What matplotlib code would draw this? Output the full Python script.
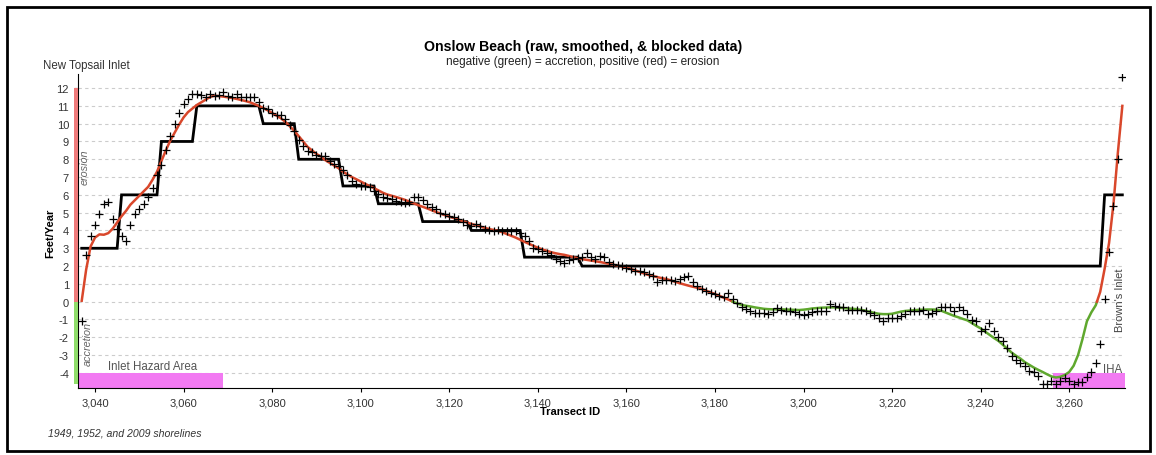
import numpy as np
import matplotlib
matplotlib.use("Agg")
import matplotlib.pyplot as plt
from matplotlib.patches import Rectangle
from matplotlib.ticker import FuncFormatter
import matplotlib.transforms as mtransforms

plt.rcParams['font.family'] = ['Liberation Sans', 'DejaVu Sans']
plt.rcParams['axes.unicode_minus'] = False

# ---------------- data ----------------
first_id = 3037
raw_values = [
    -1.1, 2.6, 3.7, 4.3, 4.9, 5.5, 5.6, 4.65, 4.1, 3.7,
    3.4, 4.3, 4.9, 5.2, 5.5, 5.9, 6.4, 7.1, 7.7, 8.5,
    9.3, 10.0, 10.6, 11.1, 11.4, 11.65, 11.65, 11.6, 11.5, 11.65,
    11.55, 11.6, 11.8, 11.55, 11.5, 11.65, 11.5, 11.5, 11.5, 11.5,
    11.2, 10.9, 10.8, 10.6, 10.5, 10.5, 10.25, 9.9, 9.6, 9.1,
    8.75, 8.48, 8.39, 8.25, 8.2, 8.2, 7.92, 7.73, 7.6, 7.41,
    7.1, 6.79, 6.61, 6.48, 6.48, 6.42, 6.23, 6.05, 5.9, 5.8,
    5.76, 5.67, 5.61, 5.54, 5.6, 5.86, 5.86, 5.72, 5.5, 5.3,
    5.2, 4.98, 4.92, 4.83, 4.74, 4.64, 4.45, 4.3, 4.23, 4.36,
    4.26, 4.1, 4.0, 3.98, 4.02, 3.98, 3.98, 3.98, 3.98, 3.85,
    3.67, 3.42, 3.01, 2.96, 2.86, 2.73, 2.62, 2.39, 2.3, 2.17,
    2.35, 2.39, 2.45, 2.49, 2.73, 2.49, 2.39, 2.58, 2.49, 2.21,
    2.11, 2.06, 1.98, 1.87, 1.83, 1.74, 1.7, 1.65, 1.55, 1.46,
    1.08, 1.23, 1.23, 1.2, 1.17, 1.27, 1.36, 1.42, 1.08, 0.89,
    0.71, 0.61, 0.5, 0.43, 0.33, 0.24, 0.47, 0.15, -0.1, -0.32,
    -0.42, -0.51, -0.66, -0.66, -0.66, -0.7, -0.6, -0.38, -0.47, -0.51,
    -0.55, -0.6, -0.7, -0.75, -0.7, -0.6, -0.55, -0.55, -0.55, -0.13,
    -0.27, -0.32, -0.32, -0.46, -0.46, -0.46, -0.46, -0.55, -0.65, -0.75,
    -0.94, -1.07, -0.94, -0.94, -0.94, -0.83, -0.7, -0.55, -0.55, -0.55,
    -0.46, -0.7, -0.64, -0.5, -0.32, -0.32, -0.32, -0.51, -0.32, -0.46,
    -0.7, -1.02, -1.07, -1.63, -1.54, -1.2, -1.63, -2.01, -2.2, -2.6,
    -3.04, -3.3, -3.45, -3.6, -3.88, -3.97, -4.16, -4.63, -4.63, -4.44,
    -4.63, -4.44, -4.31, -4.44, -4.63, -4.53, -4.5, -4.25, -3.97, -3.45,
    -2.38, 0.15, 2.77, 5.39, 8.01, 12.6,
]
smoothed_values = [
    0.05, 1.8, 3.1, 3.6, 3.78, 3.76, 3.85, 4.1, 4.45, 4.8,
    5.1, 5.45, 5.7, 5.95, 6.2, 6.45, 6.85, 7.3, 7.9, 8.5,
    9.05, 9.5, 9.95, 10.35, 10.65, 10.85, 11.05, 11.2, 11.35, 11.5,
    11.57, 11.55, 11.52, 11.48, 11.44, 11.39, 11.33, 11.27, 11.2, 11.1,
    11.0, 10.88, 10.75, 10.6, 10.45, 10.3, 10.1, 9.85, 9.6, 9.3,
    9.0, 8.7, 8.5, 8.3, 8.15, 7.95, 7.8, 7.65, 7.5, 7.3,
    7.15, 7.0, 6.88, 6.75, 6.62, 6.5, 6.38, 6.25, 6.12, 6.02,
    5.95, 5.88, 5.8, 5.72, 5.62, 5.52, 5.42, 5.33, 5.24, 5.14,
    5.04, 4.95, 4.86, 4.77, 4.7, 4.62, 4.53, 4.45, 4.37, 4.3,
    4.22, 4.15, 4.08, 4.03, 3.98, 3.9, 3.8, 3.7, 3.6, 3.48,
    3.36, 3.25, 3.14, 3.03, 2.94, 2.86, 2.78, 2.72, 2.67, 2.63,
    2.57, 2.5, 2.44, 2.39, 2.35, 2.31, 2.27, 2.23, 2.18, 2.13,
    2.08, 2.03, 1.97, 1.9, 1.84, 1.76, 1.67, 1.58, 1.5, 1.44,
    1.38, 1.32, 1.27, 1.2, 1.12, 1.04, 0.97, 0.9, 0.84, 0.78,
    0.72, 0.62, 0.52, 0.43, 0.33, 0.22, 0.12, 0.0, -0.1, -0.18,
    -0.23, -0.27, -0.32, -0.36, -0.4, -0.42, -0.43, -0.43, -0.43, -0.44,
    -0.45, -0.46, -0.47, -0.45, -0.42, -0.38, -0.36, -0.34, -0.33, -0.32,
    -0.32, -0.34, -0.36, -0.38, -0.4, -0.42, -0.46, -0.51, -0.57, -0.63,
    -0.68, -0.7, -0.7, -0.68, -0.62, -0.56, -0.52, -0.5, -0.48, -0.46,
    -0.45, -0.44, -0.44, -0.45, -0.5, -0.6, -0.7, -0.8, -0.88, -0.97,
    -1.05, -1.2, -1.36, -1.5, -1.68, -1.86, -2.04, -2.2, -2.42, -2.64,
    -2.86, -3.04, -3.2, -3.4, -3.55, -3.7, -3.83, -3.95, -4.08, -4.2,
    -4.26, -4.22, -4.12, -3.95, -3.6, -3.0, -2.1, -1.1, -0.6, -0.2,
    0.55, 1.85, 3.3, 5.5, 8.4, 11.0,
]
block_start_ids = [3037, 3046, 3055, 3063, 3078, 3086, 3096, 3104, 3114, 3125, 3137, 3150, 3268]
block_end_ids   = [3045, 3054, 3062, 3077, 3085, 3095, 3103, 3113, 3124, 3136, 3149, 3267, 3272]
block_values    = [3, 6, 9, 11, 10, 8, 6.5, 5.5, 4.5, 4, 2.5, 2, 6]

hazard_areas = [(3036.2, 3069.0, "Inlet Hazard Area"), (3256.4, 3272.6, "IHA")]
x_ticks = list(range(3040, 3261, 20))
y_ticks = list(range(-4, 13))

# ---------------- figure ----------------
W, H = 1156, 456
fig = plt.figure(figsize=(W / 100, H / 100), dpi=100)
fig.patch.set_facecolor('white')

def fx(px):
    return px / W

def fy(py):
    return 1 - py / H

ax = fig.add_axes([fx(78), fy(389), fx(1125) - fx(78), fy(75) - fy(389)])
ax.set_xlim(3036.16, 3272.6)
ax.set_ylim(-4.85, 12.79)

ids = np.arange(first_id, first_id + len(raw_values))
raw = np.array(raw_values)
smooth = np.array(smoothed_values)

# grid
for yv in y_ticks:
    ax.axhline(yv, color='#cccccc', lw=0.8, ls=(0, (3, 3)), zorder=0)

# hazard areas
for x0, x1, _ in hazard_areas:
    ax.add_patch(Rectangle((x0, -4.0), x1 - x0, -0.92, facecolor='#f27af2',
                           edgecolor='none', zorder=1, clip_on=False))

# side bars (erosion / accretion)
trans_b = mtransforms.blended_transform_factory(ax.transAxes, ax.transData)
ax.add_patch(Rectangle((-0.0035, 0), 0.0035, 12, transform=trans_b,
                       facecolor='#ef7b7b', edgecolor='none', clip_on=False, zorder=3))
ax.add_patch(Rectangle((-0.0035, 0), 0.0035, -4.6, transform=trans_b,
                       facecolor='#8fdd6a', edgecolor='none', clip_on=False, zorder=3))

# blocked data
blocked = np.zeros(len(ids))
for s, e, v in zip(block_start_ids, block_end_ids, block_values):
    blocked[(ids >= s) & (ids <= e)] = v
ax.plot(ids, blocked, color='black', lw=2.0, zorder=3, solid_joinstyle='miter')

# smoothed line coloured by sign
xs, ys = [ids[0]], [smooth[0]]
segs = []
for i in range(1, len(ids)):
    x0, y0, x1, y1 = ids[i - 1], smooth[i - 1], ids[i], smooth[i]
    if (y0 >= 0) != (y1 >= 0):
        xc = x0 + (0 - y0) * (x1 - x0) / (y1 - y0)
        xs.append(xc); ys.append(0.0)
        segs.append((xs, ys, y0 >= 0))
        xs, ys = [xc], [0.0]
    xs.append(x1); ys.append(y1)
segs.append((xs, ys, smooth[-1] >= 0))
for sx, sy, pos in segs:
    ax.plot(sx, sy, color='#d9472b' if pos else '#5fa82e', lw=1.8, zorder=4)

# raw points
ax.plot(ids, raw, ls='none', marker='+', ms=5.5, mew=0.9, color='black', zorder=5)

# axes styling
for s in ['top', 'right']:
    ax.spines[s].set_visible(False)
ax.spines['left'].set_color('black')
ax.spines['bottom'].set_color('black')
ax.set_xticks(x_ticks)
ax.set_yticks(y_ticks)
ax.xaxis.set_major_formatter(FuncFormatter(lambda v, p: f"{int(v):,}"))
ax.tick_params(axis='both', labelsize=8, labelcolor='#333333', length=3,
               width=0.8, color='black')

# in-plot annotations
ax.text(3037.7, 7.6, "erosion", rotation=90, style='italic', fontsize=7.8,
        color='#666666', ha='center', va='center')
ax.text(3038.4, -2.3, "accretion", rotation=90, style='italic', fontsize=7.8,
        color='#666666', ha='center', va='center')
ax.text(3052.9, -3.62, hazard_areas[0][2], fontsize=8.3, color='#555555',
        ha='center', va='center')
ax.text(3269.7, -3.79, hazard_areas[1][2], fontsize=8.3, color='#555555',
        ha='center', va='center')
ax.text(3271.5, 0.15, "Brown's Inlet", rotation=90, fontsize=8, color='#444444',
        ha='center', va='center')

# figure texts
fig.text(fx(583), fy(47), "Onslow Beach (raw, smoothed, & blocked data)",
         fontsize=10.2, fontweight='bold', ha='center', va='center')
fig.text(fx(583), fy(62), "negative (green) = accretion, positive (red) = erosion",
         fontsize=8.5, color='#222222', ha='center', va='center')
fig.text(fx(43), fy(66), "New Topsail Inlet", fontsize=8.3, color='#333333',
         ha='left', va='center')
fig.text(fx(50), fy(233), "Feet/Year", fontsize=8, fontweight='bold',
         rotation=90, ha='center', va='center')
fig.text(fx(570), fy(412), "Transect ID", fontsize=8, fontweight='bold',
         ha='center', va='center')
fig.text(fx(48), fy(434), "1949, 1952, and 2009 shorelines", fontsize=7.6,
         style='italic', color='#333333', ha='left', va='center')

# outer border
fig.patches.append(Rectangle((fx(7), fy(452)), fx(1150) - fx(7), fy(8) - fy(452),
                             transform=fig.transFigure, fill=False,
                             edgecolor='black', lw=2.0))

fig.savefig("out.png", dpi=100, facecolor='white')
